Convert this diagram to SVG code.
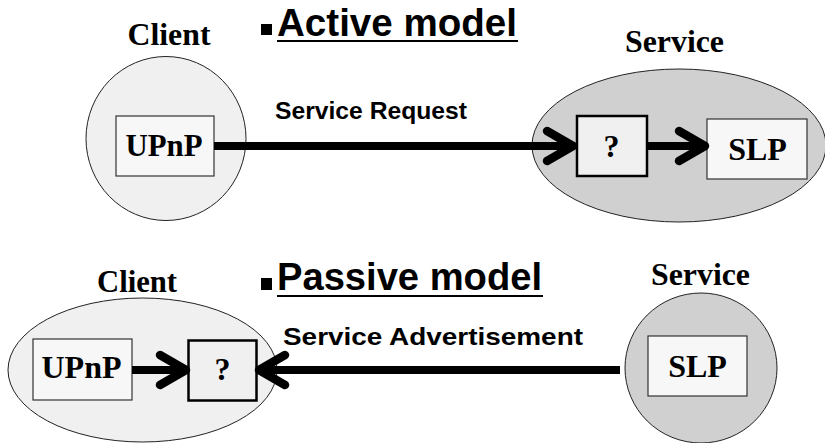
<svg xmlns="http://www.w3.org/2000/svg" width="825" height="443" viewBox="0 0 825 443">
  <style>
    .host-light { fill: #f0f0f0; stroke: #222; stroke-width: 1; }
    .host-dark { fill: #d0d0d0; stroke: #222; stroke-width: 1; }
    .box { fill: #f7f7f7; stroke: #333; stroke-width: 1.2; }
    .qbox { fill: #f0f0f0; stroke: #000; stroke-width: 2.5; }
    .serif { font-family: "Liberation Serif", "Times New Roman", serif; font-weight: bold; font-size: 32px; fill: #000; }
    .title { font-family: "Liberation Sans", Arial, sans-serif; font-weight: bold; font-size: 38px; fill: #000; }
    .label { font-family: "Liberation Sans", Arial, sans-serif; font-weight: bold; font-size: 23px; fill: #000; }
    .conn { stroke: #000; stroke-width: 8; fill: none; marker-end: url(#chevron); }
  </style>
  <defs>
    <marker id="chevron" markerUnits="userSpaceOnUse" orient="auto" markerWidth="40" markerHeight="40" refX="0" refY="0" viewBox="-32 -20 40 40" overflow="visible">
      <path d="M-26,-15 L0,0 L-26,15" fill="none" stroke="#000" stroke-width="8.5" stroke-linecap="round" stroke-linejoin="round"/>
    </marker>
  </defs>

  <!-- Active model -->
  <g id="title-active">
    <rect x="261" y="24" width="11" height="11" fill="#000"/>
    <text class="title" x="277" y="36" textLength="240" lengthAdjust="spacingAndGlyphs">Active model</text>
    <rect x="277" y="40" width="241" height="2" fill="#000"/>
  </g>

  <g id="client-active">
    <text class="serif" x="169" y="45" text-anchor="middle" textLength="83" lengthAdjust="spacingAndGlyphs">Client</text>
    <ellipse class="host-light" cx="166" cy="138.5" rx="80" ry="82"/>
  </g>
  <g id="upnp-active">
    <rect class="box" x="116" y="116" width="98" height="60"/>
    <text class="serif" x="164" y="156" text-anchor="middle" textLength="77" lengthAdjust="spacingAndGlyphs">UPnP</text>
  </g>

  <g id="service-active">
    <text class="serif" x="674.5" y="52" text-anchor="middle" textLength="99" lengthAdjust="spacingAndGlyphs">Service</text>
    <ellipse class="host-dark" cx="679" cy="145.5" rx="147" ry="76.5"/>
  </g>
  <g id="q-active">
    <rect class="qbox" x="577" y="116" width="70" height="60"/>
    <text class="serif" x="611.5" y="157" text-anchor="middle">?</text>
  </g>
  <g id="slp-active">
    <rect class="box" x="707" y="119" width="100" height="60"/>
    <text class="serif" x="757.5" y="160" text-anchor="middle">SLP</text>
  </g>

  <text class="label" x="275" y="118.5" textLength="192" lengthAdjust="spacingAndGlyphs">Service Request</text>

  <!-- Passive model -->
  <g id="title-passive">
    <rect x="261" y="278" width="11" height="12" fill="#000"/>
    <text class="title" x="277" y="290" textLength="265" lengthAdjust="spacingAndGlyphs">Passive model</text>
    <rect x="277" y="295" width="266" height="2" fill="#000"/>
  </g>

  <g id="client-passive">
    <text class="serif" x="137" y="292" text-anchor="middle" textLength="80" lengthAdjust="spacingAndGlyphs">Client</text>
    <ellipse class="host-light" cx="142.5" cy="370" rx="134.5" ry="72"/>
  </g>
  <g id="upnp-passive">
    <rect class="box" x="33" y="339" width="99" height="61"/>
    <text class="serif" x="81.5" y="378" text-anchor="middle" textLength="80" lengthAdjust="spacingAndGlyphs">UPnP</text>
  </g>
  <g id="q-passive">
    <rect class="qbox" x="188.5" y="340.5" width="68" height="60"/>
    <text class="serif" x="222.5" y="380" text-anchor="middle">?</text>
  </g>

  <g id="service-passive">
    <text class="serif" x="700.5" y="285" text-anchor="middle" textLength="99" lengthAdjust="spacingAndGlyphs">Service</text>
    <ellipse class="host-dark" cx="701" cy="368" rx="76" ry="75"/>
  </g>
  <g id="slp-passive">
    <rect class="box" x="648" y="336" width="99" height="60"/>
    <text class="serif" x="697.5" y="377" text-anchor="middle">SLP</text>
  </g>

  <text class="label" x="283" y="345" textLength="300" lengthAdjust="spacingAndGlyphs">Service Advertisement</text>

  <!-- Connectors -->
  <g id="connectors">
    <line class="conn" x1="214" y1="146" x2="573" y2="146"/>
    <line class="conn" x1="647" y1="146" x2="705" y2="146"/>
    <line class="conn" x1="132" y1="370" x2="186" y2="370"/>
    <line class="conn" x1="620" y1="370" x2="259" y2="370"/>
  </g>
</svg>
